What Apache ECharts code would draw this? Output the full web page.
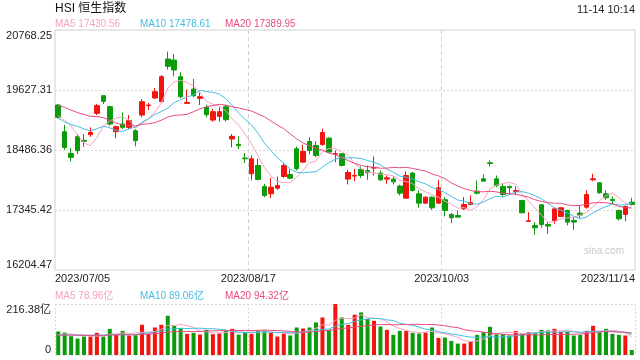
<!DOCTYPE html>
<html>
<head>
<meta charset="utf-8">
<script src="https://cdn.jsdelivr.net/npm/echarts@6/dist/echarts.min.js"></script>
<style>html,body{margin:0;padding:0;background:#fff}#chart{width:640px;height:360px}</style>
</head>
<body>
<div id="chart"></div>
<script>
// ---- data ----
const categories = [
'2023/07/05','2023/07/06','2023/07/07','2023/07/10','2023/07/11','2023/07/12','2023/07/13','2023/07/14','2023/07/18','2023/07/19',
'2023/07/20','2023/07/21','2023/07/24','2023/07/25','2023/07/26','2023/07/27','2023/07/28','2023/07/31','2023/08/01','2023/08/02',
'2023/08/03','2023/08/04','2023/08/07','2023/08/08','2023/08/09','2023/08/10','2023/08/11','2023/08/14','2023/08/15','2023/08/16',
'2023/08/17','2023/08/18','2023/08/21','2023/08/22','2023/08/23','2023/08/24','2023/08/25','2023/08/28','2023/08/29','2023/08/30',
'2023/08/31','2023/09/04','2023/09/05','2023/09/06','2023/09/07','2023/09/11','2023/09/12','2023/09/13','2023/09/14','2023/09/15',
'2023/09/18','2023/09/19','2023/09/20','2023/09/21','2023/09/22','2023/09/25','2023/09/26','2023/09/27','2023/09/28','2023/09/29',
'2023/10/03','2023/10/04','2023/10/05','2023/10/06','2023/10/09','2023/10/10','2023/10/11','2023/10/12','2023/10/13','2023/10/16',
'2023/10/17','2023/10/18','2023/10/19','2023/10/20','2023/10/24','2023/10/25','2023/10/26','2023/10/27','2023/10/30','2023/10/31',
'2023/11/01','2023/11/02','2023/11/03','2023/11/06','2023/11/07','2023/11/08','2023/11/09','2023/11/10','2023/11/13','2023/11/14'];

const opens = [19342,18834,18422,18739,18670,18777,19183,19519,19310,18834,
18980,18917,18853,19151,19330,19475,19405,20216,20197,19880,
19373,19646,19468,19297,19056,19126,19310,18695,18594,18333,
18034,18192,17793,17654,17761,17983,18021,18509,18256,18649,
18573,18592,18712,18408,18414,17933,17990,18116,18097,18142,
18047,17933,17933,17800,17571,18047,17654,17476,17590,17476,
17540,17261,17241,17368,17451,17704,17939,18243,17939,17793,
17793,17698,17527,17128,17051,17444,17070,17146,17223,17337,
17146,17286,17400,17920,17863,17654,17546,17337,17261,17495];

const closes = [19107,18536,18346,18473,18652,18822,19329,19411,18980,18930,
18917,19044,18663,19405,19342,19595,19880,20077,20007,19500,
19392,19519,19500,19158,19215,19215,19063,18746,18568,18320,
18319,17926,17622,17780,17812,18192,17951,18129,18459,18478,
18383,18820,18446,18420,18192,18059,18002,18002,18053,18154,
17920,17958,17882,17666,18002,17717,17476,17590,17387,17768,
17337,17197,17210,17451,17489,17666,17894,18230,17812,17641,
17768,17717,17292,17140,17007,17070,17039,17368,17387,17115,
17115,17248,17641,17939,17673,17578,17527,17178,17413,17451];

const lows = [19088,18492,18270,18409,18549,18739,19151,19361,18949,18708,
18885,18885,18555,19107,19246,19456,19392,20014,19887,19468,
19361,19487,19342,19107,19025,19031,19031,18537,18505,18239,
17907,17907,17590,17571,17730,17958,17932,18097,18237,18401,
18351,18566,18427,18256,18173,17831,17895,17958,17920,18002,
17895,17844,17831,17622,17565,17698,17387,17463,17349,17463,
17223,17096,17197,17349,17432,17641,17894,18173,17780,17603,
17641,17641,17286,17121,16874,17007,16893,17083,17210,17051,
16969,17197,17368,17894,17654,17540,17451,17146,17134,17432];

const highs = [19361,18961,18524,18790,18790,18917,19361,19525,19329,18949,
19202,19151,18885,19456,19380,19665,19912,20356,20311,19963,
19633,19836,19583,19342,19266,19297,19342,18790,18746,18429,
18383,18319,17844,17958,17983,18237,18116,18554,18585,18731,
18655,18890,18731,18478,18427,18110,18129,18173,18192,18364,
18097,18002,17983,17825,18078,18066,17717,17603,17603,17920,
17590,17286,17337,17590,17622,17907,18021,18288,18002,17844,
17812,17793,17530,17305,17115,17450,17115,17400,17400,17349,
17210,17432,17717,18034,17875,17717,17603,17349,17432,17578];

// volumes in 亿
const volumes = [99.7,95.4,79.7,69.8,78.3,78.3,94.0,78.3,111.0,85.4,
102.5,82.6,84.0,128.1,89.7,116.7,128.1,166.6,123.9,113.9,
89.7,94.0,86.8,106.8,88.3,91.1,102.5,111.0,86.8,95.4,
89.7,103.9,103.9,95.4,78.3,91.1,82.6,116.7,112.5,116.7,
138.1,159.4,106.8,216.38,159.4,128.1,170.8,180.8,152.3,145.2,
121.0,106.8,85.4,102.5,102.5,94.0,91.1,95.4,116.7,72.6,
74.0,59.8,48.4,48.4,56.9,85.4,96.8,119.6,88.3,88.3,
82.6,102.5,92.5,96.8,92.5,106.8,103.9,111.0,98.2,99.7,
82.6,85.4,102.5,123.9,96.8,111.0,89.7,85.4,82.6,21.4];

// sessions before the visible window (estimated from the MA lines' starting levels)
const priorCloses = [19252,19389,19390,19404,19521,19408,19828,20040,19912,19607,19218,18889,18794,19148,19172,18934,18916,19306,19416];
const priorVolumes = [82,79,88,85,80,91,86,78,84,83,87,80,76,82,85,81,84,86,83];

const xTickLabels = ['2023/07/05','2023/08/17','2023/10/03','2023/11/14'];
const yTickLabels = ['16204.47','17345.42','18486.36','19627.31','20768.25'];
const volTickLabels = ['0','216.38亿'];
const priceMin = 16204.47, priceMax = 20768.25, volMax = 216.38;

const titleText = 'HSI 恒生指数';
const timeText = '11-14 10:14';
const maLegend = ['MA5 17430.56','MA10 17478.61','MA20 17389.95'];
const volLegend = ['MA5 78.96亿','MA10 89.06亿','MA20 94.32亿'];
const maPeriods = [5,10,20];

// ---- rendering ----
const FONT = '"Liberation Sans", Arial, "Noto Sans CJK SC", sans-serif';
const UP = '#f2140e', DOWN = '#0b9b0b';
const MA_COLORS = ['#f6a2bf', '#3fbfe2', '#e84a7f'];

function movingAvg(prior, vals, n) {
  const all = prior.concat(vals), off = prior.length;
  return vals.map((_, i) => {
    let s = 0;
    for (let k = i + off - n + 1; k <= i + off; k++) s += all[k];
    return +(s / n).toFixed(2);
  });
}

const candleData = categories.map((_, i) => [opens[i], closes[i], lows[i], highs[i]]);
const volData = volumes.map((v, i) => ({ value: v, itemStyle: { color: closes[i] >= opens[i] ? UP : DOWN } }));

const dotted = { color: '#d9d9d9', type: [2, 2], width: 1 };
const dashed = { color: '#d0d0d0', type: [4, 3], width: 1 };

const series = [{
  type: 'candlestick', xAxisIndex: 0, yAxisIndex: 0, data: candleData, barWidth: 5,
  itemStyle: { color: UP, color0: DOWN, borderColor: UP, borderColor0: DOWN, borderWidth: 1 }
}];
maPeriods.forEach((n, k) => {
  series.push({ type: 'line', xAxisIndex: 0, yAxisIndex: 0, data: movingAvg(priorCloses, closes, n),
    symbol: 'none', lineStyle: { color: MA_COLORS[k], width: 1 }, z: 5 });
});
series.push({ type: 'bar', xAxisIndex: 2, yAxisIndex: 2, data: volData, barWidth: 4 });
maPeriods.forEach((n, k) => {
  series.push({ type: 'line', xAxisIndex: 2, yAxisIndex: 2, data: movingAvg(priorVolumes, volumes, n),
    symbol: 'none', lineStyle: { color: MA_COLORS[k], width: 1 }, z: 5 });
});

const graphics = [
  { type: 'text', x: 55, y: 9, style: { text: titleText, font: '12px ' + FONT, fill: '#111', verticalAlign: 'middle' } },
  { type: 'text', x: 635, y: 10, style: { text: timeText, font: '11px ' + FONT, fill: '#222', align: 'right', verticalAlign: 'middle' } },
  { type: 'text', x: 624, y: 251, style: { text: 'sina.com', font: '10px ' + FONT, fill: '#c8c8c8', align: 'right', verticalAlign: 'middle' } }
];
const legendX = [55, 140, 225];
maLegend.forEach((t, k) => graphics.push({ type: 'text', x: legendX[k], y: 24.5,
  style: { text: t, font: '10px ' + FONT, fill: MA_COLORS[k], verticalAlign: 'middle' } }));
volLegend.forEach((t, k) => graphics.push({ type: 'text', x: legendX[k], y: 296,
  style: { text: t, font: '10px ' + FONT, fill: MA_COLORS[k], verticalAlign: 'middle' } }));

const chart = echarts.init(document.getElementById('chart'));
chart.setOption({
  animation: false,
  textStyle: { fontFamily: FONT },
  grid: [
    { left: 55, right: 5, top: 30, height: 240, show: true, borderColor: '#cfcfcf', borderWidth: 1 },
    { left: 55, right: 5, top: 304, height: 51 }
  ],
  xAxis: [
    { type: 'category', gridIndex: 0, data: categories, boundaryGap: true, show: false, position: 'bottom' },
    { type: 'value', gridIndex: 0, min: 0, max: 90, interval: 30, position: 'bottom',
      axisLine: { show: false }, axisTick: { show: false },
      axisLabel: { color: '#222', fontSize: 11, margin: 3, formatter: v => xTickLabels[Math.round(v / 30)],
        alignMinLabel: 'left', alignMaxLabel: 'right' },
      splitLine: { show: true, showMinLine: false, showMaxLine: false, lineStyle: dashed } },
    { type: 'category', gridIndex: 1, data: categories, boundaryGap: true, show: false, position: 'bottom' },
    { type: 'value', gridIndex: 1, min: 0, max: 90, interval: 30, position: 'bottom',
      axisLine: { show: false }, axisTick: { show: false }, axisLabel: { show: false },
      splitLine: { show: true, lineStyle: dotted } }
  ],
  yAxis: [
    { type: 'value', gridIndex: 0, min: priceMin, max: priceMax, show: false, position: 'left' },
    { type: 'value', gridIndex: 0, min: 0, max: 4, interval: 1, position: 'left',
      axisLine: { show: false }, axisTick: { show: false },
      axisLabel: { color: '#222', fontSize: 11, margin: 3, formatter: v => yTickLabels[Math.round(v)],
        verticalAlignMinLabel: 'bottom', verticalAlignMaxLabel: 'top' },
      splitLine: { show: true, showMinLine: false, showMaxLine: false, lineStyle: dotted } },
    { type: 'value', gridIndex: 1, min: 0, max: volMax, show: false, position: 'left' },
    { type: 'value', gridIndex: 1, min: 0, max: 1, interval: 1, position: 'left',
      axisLine: { show: false }, axisTick: { show: false },
      axisLabel: { color: '#222', fontSize: 11, margin: 4, formatter: v => volTickLabels[Math.round(v)],
        verticalAlignMinLabel: 'bottom', verticalAlignMaxLabel: 'top' },
      splitLine: { show: true, lineStyle: dotted } }
  ],
  graphic: graphics,
  series: series
});
</script>
</body>
</html>
